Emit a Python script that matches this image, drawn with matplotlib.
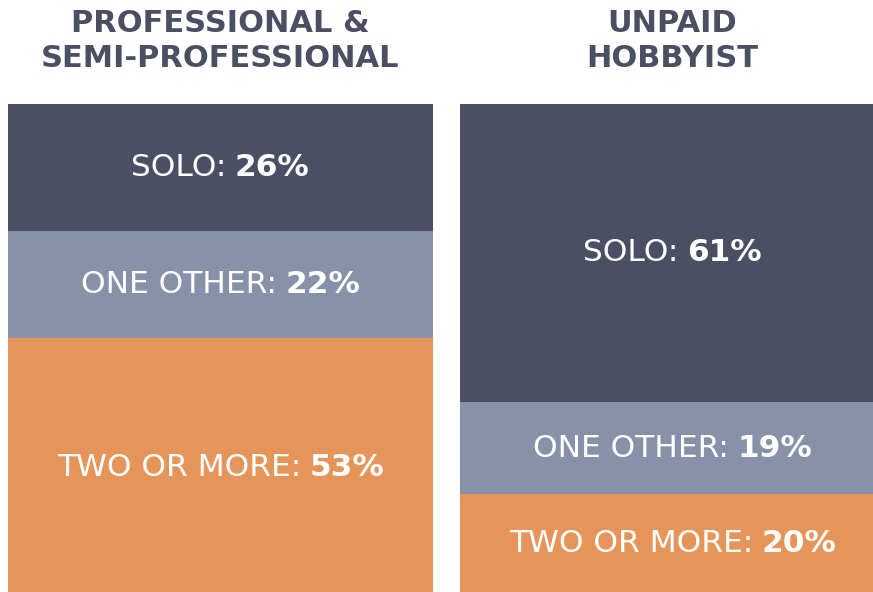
import matplotlib
matplotlib.use("Agg")
import matplotlib.pyplot as plt
from matplotlib.offsetbox import TextArea, HPacker, AnnotationBbox

# ---- data ----
groups = ["PROFESSIONAL &\nSEMI-PROFESSIONAL", "UNPAID\nHOBBYIST"]
segments = ["SOLO", "ONE OTHER", "TWO OR MORE"]
solo = [26, 61]
one_other = [22, 19]
two_or_more = [53, 20]
colors = ["#4b4f64", "#8791a9", "#e6955a"]

plt.rcParams["font.family"] = ["DejaVu Sans"]

fig = plt.figure(figsize=(8.73, 5.92), dpi=100)
ax = fig.add_axes([0, 0, 1, 1])

x = [0, 1]
width = 0.94
values = [solo, one_other, two_or_more]
bottom = [0, 0]
for seg, vals, col in zip(segments, values, colors):
    ax.bar(x, vals, width=width, bottom=bottom, color=col, linewidth=0)
    for i in range(len(x)):
        yc = bottom[i] + vals[i] / 2
        t1 = TextArea(seg + ":", textprops=dict(color="white", fontsize=22.5))
        t2 = TextArea("%d%%" % vals[i],
                      textprops=dict(color="white", fontsize=22.5, fontweight="bold"))
        box = HPacker(children=[t1, t2], sep=6, align="baseline", pad=0)
        ab = AnnotationBbox(box, (x[i], yc), frameon=False,
                            box_alignment=(0.5, 0.5), pad=0)
        ab.set_clip_on(True)
        ax.add_artist(ab)
    bottom = [b + v for b, v in zip(bottom, vals)]

for i, g in enumerate(groups):
    ax.text(x[i], -12.9, g, ha="center", va="center", fontsize=22,
            fontweight="bold", color=colors[0], linespacing=1.25)

ax.set_xlim(-0.4878, 1.4436)
ax.set_ylim(100, -21.3)
ax.axis("off")

fig.savefig("out.png", dpi=100)
